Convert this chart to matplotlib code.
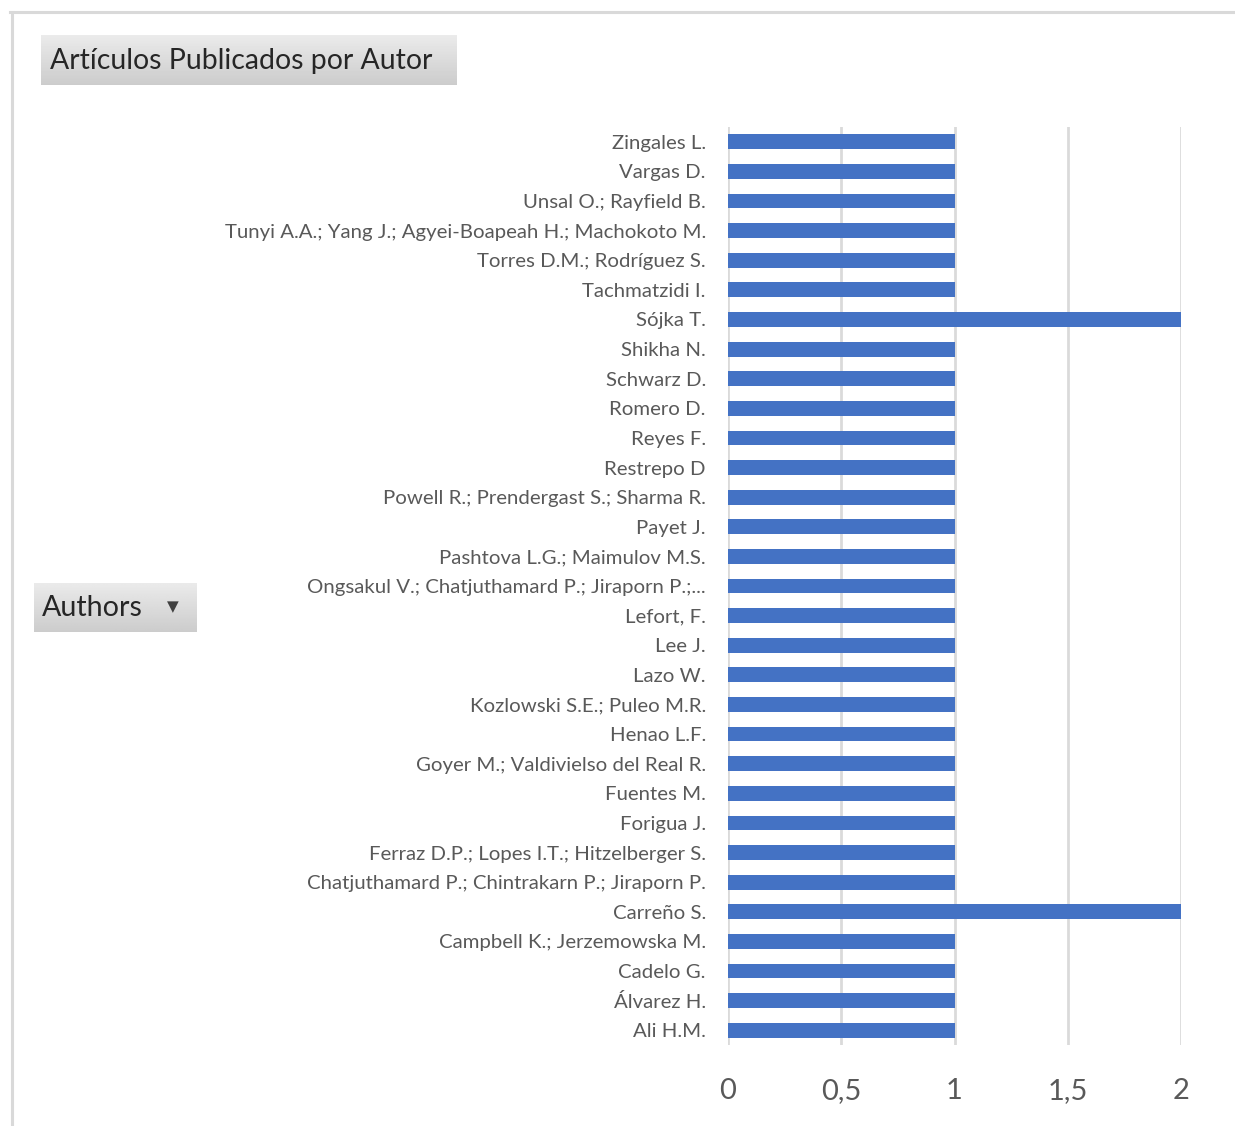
import numpy as np
import matplotlib.pyplot as plt
from matplotlib.lines import Line2D

# authors listed bottom to top, as drawn in the chart
authors = [
    "Ali H.M.", "Álvarez H.", "Cadelo G.", "Campbell K.; Jerzemowska M.",
    "Carreño S.", "Chatjuthamard P.; Chintrakarn P.; Jiraporn P.",
    "Ferraz D.P.; Lopes I.T.; Hitzelberger S.", "Forigua J.", "Fuentes M.",
    "Goyer M.; Valdivielso del Real R.", "Henao L.F.",
    "Kozlowski S.E.; Puleo M.R.", "Lazo W.", "Lee J.", "Lefort, F.",
    "Ongsakul V.; Chatjuthamard P.; Jiraporn P.;...",
    "Pashtova L.G.; Maimulov M.S.", "Payet J.",
    "Powell R.; Prendergast S.; Sharma R.", "Restrepo D", "Reyes F.",
    "Romero D.", "Schwarz D.", "Shikha N.", "Sójka T.", "Tachmatzidi I.",
    "Torres D.M.; Rodríguez S.",
    "Tunyi A.A.; Yang J.; Agyei-Boapeah H.; Machokoto M.",
    "Unsal O.; Rayfield B.", "Vargas D.", "Zingales L.",
]
articles = [1, 1, 1, 1, 2, 1, 1, 1, 1, 1, 1, 1, 1, 1, 1, 1,
            1, 1, 1, 1, 1, 1, 1, 1, 2, 1, 1, 1, 1, 1, 1]
xticks = [0, 0.5, 1, 1.5, 2]
xtick_labels = ["0", "0,5", "1", "1,5", "2"]

plt.rcParams['font.family'] = ['Lato', 'DejaVu Sans']
W, H = 1235, 1126
fig = plt.figure(figsize=(W / 100, H / 100), dpi=100)

def fx(px):
    return px / W

def fy(py):
    return 1 - py / H

# main plot area
ax = fig.add_axes([fx(728), fy(1045), fx(1181) - fx(728), fy(127) - fy(1045)])
pos = np.arange(len(authors))
ax.barh(pos, articles, height=0.5, color="#4472C4", zorder=3)
ax.set_ylim(-0.5, len(authors) - 0.5)
ax.set_xlim(0, 2)
ax.set_yticks(pos)
ax.set_yticklabels(authors)
ax.set_xticks(xticks)
ax.set_xticklabels(xtick_labels)
ax.grid(axis="x", color="#dadada", linewidth=2, zorder=0)
for s in ax.spines.values():
    s.set_visible(False)
ax.tick_params(axis="y", length=0, pad=16, labelsize=14.7, labelcolor="#595959")
ax.tick_params(axis="x", length=0, pad=24, labelsize=21, labelcolor="#595959")

# chart outer border (top and left visible)
fig.add_artist(Line2D([fx(10), 1], [fy(12), fy(12)], color="#d9d9d9", lw=2.2))
fig.add_artist(Line2D([fx(12), fx(12)], [fy(12), 0], color="#d9d9d9", lw=2.2))

# gray gradient buttons
grad = np.linspace(0.92, 0.80, 50).reshape(-1, 1)

def button(x0, y0, x1, y1):
    bax = fig.add_axes([fx(x0), fy(y1), fx(x1) - fx(x0), fy(y0) - fy(y1)])
    bax.imshow(grad, aspect="auto", cmap="gray", vmin=0, vmax=1,
               extent=[0, 1, 0, 1])
    bax.set_xlim(0, 1)
    bax.set_ylim(0, 1)
    bax.axis("off")
    return bax

button(41, 35, 457, 85)
fig.text(fx(50), fy(61), "Artículos Publicados por Autor", fontsize=20.4,
         color="#262626", ha="left", va="center")

button(34, 583, 197, 632)
fig.text(fx(42), fy(608), "Authors", fontsize=20.6, color="#262626",
         ha="left", va="center")
fig.text(fx(173), fy(607), "▼", fontsize=11, color="#404040",
         ha="center", va="center", family="DejaVu Sans")

fig.savefig("out.png", dpi=100)
